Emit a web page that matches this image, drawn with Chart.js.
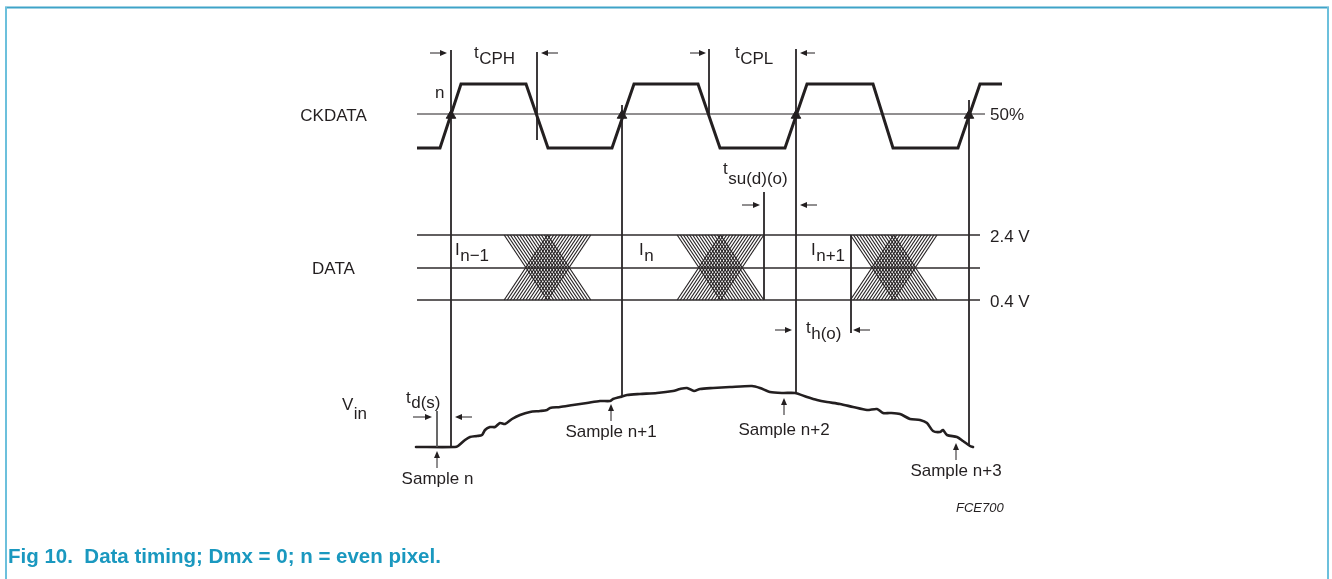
<!DOCTYPE html>
<html><head><meta charset="utf-8">
<script src="https://cdn.jsdelivr.net/npm/chart.js@4.4.1/dist/chart.umd.min.js"></script>
<style>html,body{margin:0;padding:0;background:#fff}#wrap{position:relative;width:1332px;height:579px}</style>
</head><body><div id="wrap"><canvas id="c"></canvas></div>
<script>
// ---------- data (time axis in diagram time units, level axis in diagram level units) ----------
const ckTime  = [417,440,461,526,548,612,634,698,720,785,807,873,893,958,980,1002];
const ckLevel = [148,148,84,84,148,148,84,84,148,148,84,84,148,148,84,84];
const ref50Time = [417,985];
const ref50Level = 114;
const railTime = [417,980];
const railLevels = [235,268,300];           // 2.4 V, mid, 0.4 V
const vinTime  = [416,455,458,465,470,477,482,485,490,495,500,505,512,520,530,540,547,550,560,573,587,600,610,613,620,627,640,657,673,680,687,694,700,713,730,752,760,770,783,795,807,817,827,840,853,867,877,883,890,900,910,920,927,933,940,943,947,957,963,970,973];
const vinLevel = [447,447,446,440,437,436,435,430,427,427,423,424,419,415,412,411,410,408,407,405,403,401,401,399,397,395,394,393,391,389,388,391,389,388,387,386,388,392,393,393,397,400,402,404,407,410,409,413,413,414,419,420,423,431,432,430,435,437,441,446,447];
const edgeTimes = [451,622,796,969];         // rising-edge 50 % crossings
const eyeCenters = [547.5,720.5,893.7];      // data transition windows
const eyeHalfWidth = 43.3;
const markerTimes = [451,537,622,709,796,969,764,851,437];
const markerFrom  = [50,52,105,49,49,100,192,235,411];
const markerTo    = [447,140,396,116,393,446,300,333,447];
const sampleTimes  = [437,611,784,956];
const sampleLevels = [451,404,398,443];
const sampleNames  = ['Sample n','Sample n+1','Sample n+2','Sample n+3'];
const laneNames = ['CKDATA','DATA'];
const railNames = ['50%','2.4 V','0.4 V'];

// ---------- chart ----------
const INK = '#231f20';
const FONT = '"Liberation Sans", Arial, Helvetica, sans-serif';
const pts = (xs, ys) => xs.map((x,i)=>({x, y: Array.isArray(ys)? ys[i] : ys}));

const datasets = [];
datasets.push({data: pts(ckTime, ckLevel), borderColor: INK, borderWidth: 3, borderJoinStyle:'miter'});
datasets.push({data: pts(ref50Time, ref50Level), borderColor: INK, borderWidth: 1});
railLevels.forEach(l => datasets.push({data: pts(railTime, l), borderColor: '#2e2a2b', borderWidth: 1.3}));
markerTimes.forEach((t,i) => datasets.push({data:[{x:t,y:markerFrom[i]},{x:t,y:markerTo[i]}],
  borderColor: i===8 ? '#555' : INK, borderWidth: 1}));
datasets.push({data: pts(vinTime, vinLevel), borderColor: INK, borderWidth: 2.6, tension: 0.25, borderCapStyle:'round'});
datasets.push({data: pts(edgeTimes, ref50Level + 1.5), showLine:false, pointStyle:'triangle',
  pointRadius: 5.5, backgroundColor: INK, borderColor: INK, borderWidth: 1});
datasets.forEach(d => { if (d.showLine === undefined) d.showLine = true; if (d.pointRadius === undefined) d.pointRadius = 0; d.fill = false; });

// dimension arrows: [tail, head, level] (horizontal)
const hArrows = [[430,447,53],[558,541,53],[690,706,53],[815,800,53],[742,760,205],[817,800,205],[775,792,330],[870,853,330],[413,432,417],[472,455,417]];

const hatchPlugin = {
  id:'hatch',
  beforeDatasetsDraw(chart){
    const {ctx, scales:{x, y}} = chart;
    const top = y.getPixelForValue(railLevels[0]), bot = y.getPixelForValue(railLevels[2]);
    ctx.save(); ctx.strokeStyle = INK; ctx.lineWidth = 1.15;
    const n = 14;
    eyeCenters.forEach(c => {
      for (let i=0;i<=n;i++){
        const a = c - eyeHalfWidth + i*eyeHalfWidth/n, b = c + i*eyeHalfWidth/n;
        const xa = x.getPixelForValue(a), xb = x.getPixelForValue(b);
        ctx.beginPath(); ctx.moveTo(xa, top); ctx.lineTo(xb, bot); ctx.stroke();
        ctx.beginPath(); ctx.moveTo(xa, bot); ctx.lineTo(xb, top); ctx.stroke();
      }
    });
    ctx.restore();
  }
};

function head(ctx, x, y, ang){
  ctx.save(); ctx.translate(x,y); ctx.rotate(ang);
  ctx.beginPath(); ctx.moveTo(0,0); ctx.lineTo(-7,-3); ctx.lineTo(-7,3); ctx.closePath(); ctx.fill();
  ctx.restore();
}

const annoPlugin = {
  id:'anno',
  beforeDraw(chart){
    const {ctx, width, height} = chart;
    ctx.save(); ctx.fillStyle = '#fff'; ctx.fillRect(0,0,width,height);
    ctx.lineWidth = 2;
    ctx.strokeStyle = '#3fa3c8';
    ctx.beginPath(); ctx.moveTo(5,7.5); ctx.lineTo(1329,7.5); ctx.stroke();
    ctx.strokeStyle = '#6cc0dc';
    ctx.beginPath(); ctx.moveTo(6,7); ctx.lineTo(6,height); ctx.stroke();
    ctx.beginPath(); ctx.moveTo(1328,7); ctx.lineTo(1328,height); ctx.stroke();
    ctx.restore();
  },
  afterDatasetsDraw(chart){
    const {ctx, scales:{x, y}} = chart;
    const X = v => x.getPixelForValue(v), Y = v => y.getPixelForValue(v);
    ctx.save();
    ctx.fillStyle = INK; ctx.strokeStyle = INK; ctx.lineWidth = 1;
    hArrows.forEach(([t0,t1,l]) => {
      const dir = Math.sign(t1-t0);
      ctx.beginPath(); ctx.moveTo(X(t0), Y(l)); ctx.lineTo(X(t1)-dir*5, Y(l)); ctx.stroke();
      head(ctx, X(t1), Y(l), dir>0 ? 0 : Math.PI);
    });
    sampleTimes.forEach((t,i) => {
      const tip = Y(sampleLevels[i]);
      ctx.beginPath(); ctx.moveTo(X(t), tip+17); ctx.lineTo(X(t), tip+5); ctx.stroke();
      head(ctx, X(t), tip, -Math.PI/2);
    });
    const F = (s)=> s+'px '+FONT;
    ctx.textBaseline = 'alphabetic';
    const plain = (s, px, bl, align, font) => { ctx.font = font || F(17); ctx.textAlign = align || 'left'; ctx.fillText(s, px, bl); };
    const sub = (m, s, px, blm, bls) => {
      ctx.font = F(17); ctx.textAlign='left'; ctx.fillText(m, px, blm);
      const w = ctx.measureText(m).width; ctx.fillText(s, px + w + 0.5, bls);
    };
    plain(laneNames[0], X(333.5), Y(121), 'center');
    plain(laneNames[1], X(333.5), Y(274), 'center');
    ctx.font = F(17); ctx.textAlign='left';
    ctx.fillText('V', X(342), Y(410)); ctx.fillText('in', X(342)+ctx.measureText('V').width+0.5, Y(419));
    plain('n', X(435), Y(98));
    plain(railNames[0], X(990), Y(120));
    plain(railNames[1], X(990), Y(242));
    plain(railNames[2], X(990), Y(307));
    sub('t','CPH', X(474), Y(58), Y(64));
    sub('t','CPL', X(735), Y(58), Y(64));
    sub('t','su(d)(o)', X(723), Y(174), Y(184));
    sub('t','h(o)', X(806), Y(333), Y(339));
    sub('t','d(s)', X(406), Y(403), Y(408));
    sub('I','n\u22121', X(455), Y(255), Y(261));
    sub('I','n', X(639), Y(255), Y(261));
    sub('I','n+1', X(811), Y(255), Y(261));
    const sampleBase = [484,437,435,476];
    sampleNames.forEach((s,i)=> plain(s, X(sampleTimes[i]+ (i===0?0.5:0)), Y(sampleBase[i]), 'center'));
    plain('FCE700', X(956), Y(512), 'left', 'italic 13px '+FONT);
    ctx.fillStyle = '#1a98bf';
    ctx.font = 'bold 20.5px '+FONT; ctx.textAlign='left';
    ctx.fillText('Fig 10.  Data timing; Dmx = 0; n = even pixel.', 8, 563);
    ctx.restore();
  }
};

new Chart(document.getElementById('c'), {
  type: 'scatter',
  data: { datasets },
  options: {
    responsive: true, maintainAspectRatio: false, animation: false,
    layout: { padding: 0, autoPadding: false },
    events: [],
    plugins: { legend: {display:false}, tooltip: {enabled:false}, title:{display:false} },
    scales: {
      x: { type:'linear', min:0, max:1332, display:false },
      y: { type:'linear', min:0, max:579, reverse:true, display:false }
    }
  },
  plugins: [hatchPlugin, annoPlugin]
});
</script></body></html>
